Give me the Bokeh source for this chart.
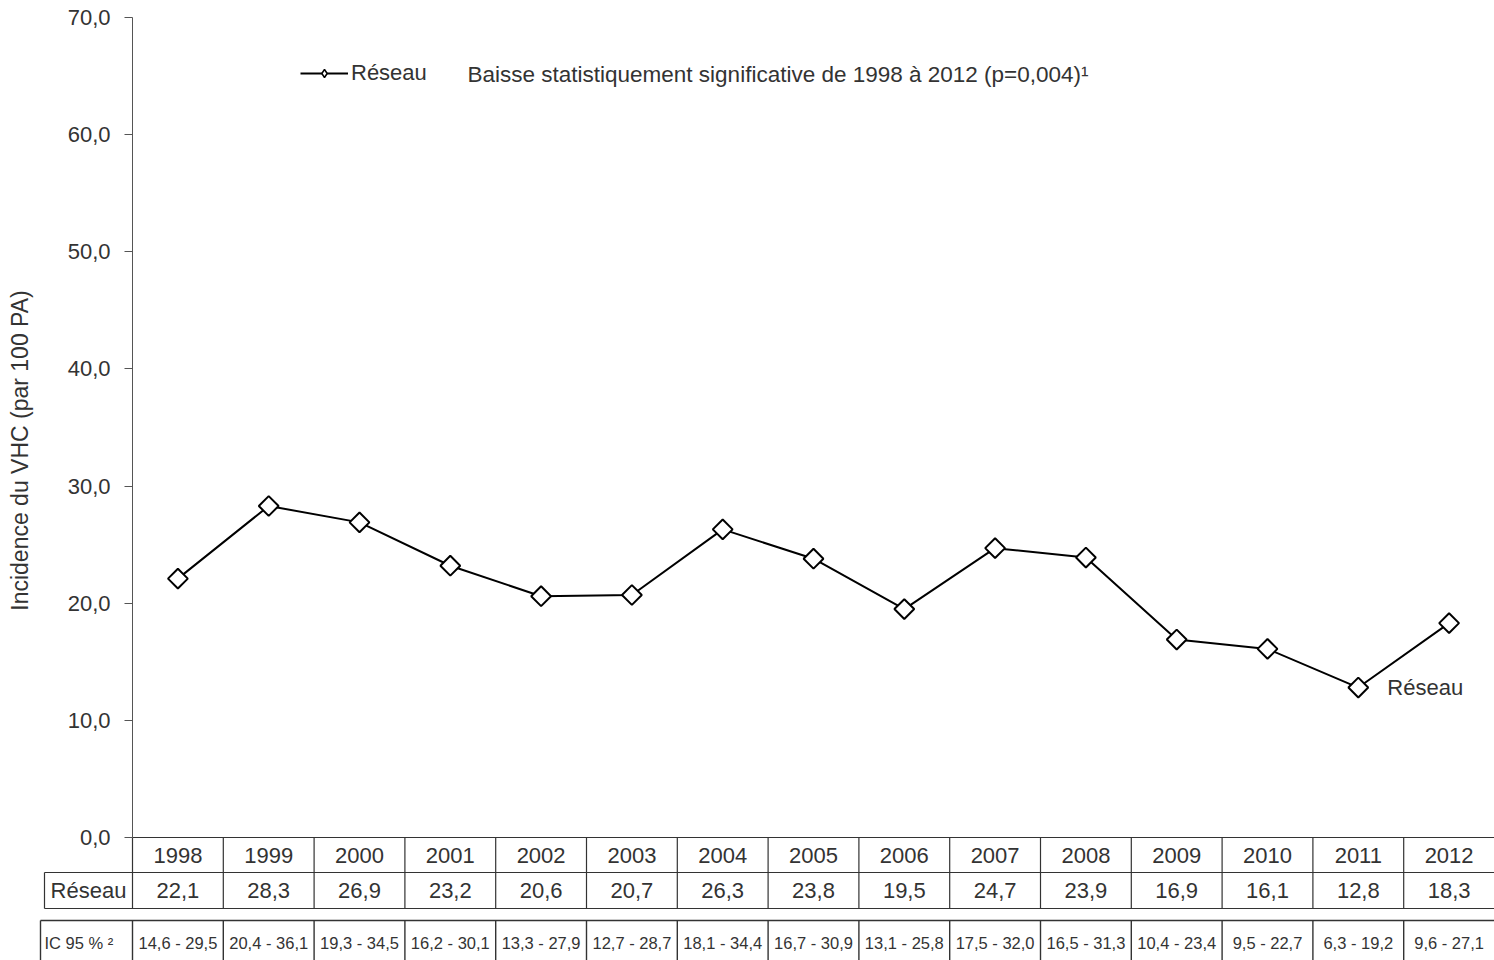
import numpy as np
from bokeh.plotting import figure
from bokeh.models import Range1d, FixedTicker, Label, Legend, LegendItem, ColumnDataSource
from bokeh.core.properties import value
from bokeh.embed import file_html
from bokeh.resources import INLINE

# ---------------- data ----------------
years = [1998, 1999, 2000, 2001, 2002, 2003, 2004, 2005, 2006, 2007, 2008, 2009, 2010, 2011, 2012]
reseau = [22.1, 28.3, 26.9, 23.2, 20.6, 20.7, 26.3, 23.8, 19.5, 24.7, 23.9, 16.9, 16.1, 12.8, 18.3]
ic_low = [14.6, 20.4, 19.3, 16.2, 13.3, 12.7, 18.1, 16.7, 13.1, 17.5, 16.5, 10.4, 9.5, 6.3, 9.6]
ic_high = [29.5, 36.1, 34.5, 30.1, 27.9, 28.7, 34.4, 30.9, 25.8, 32.0, 31.3, 23.4, 22.7, 19.2, 27.1]
y_ticks = [0, 10, 20, 30, 40, 50, 60, 70]
series_name = "Réseau"
y_label = "Incidence du VHC (par 100 PA)"
trend_text = "Baisse statistiquement significative de 1998 à 2012 (p=0,004)¹"
ic_label = "IC 95 % ²"

def fr(v):
    return f"{v:.1f}".replace(".", ",")

# ---------------- layout helpers (page pixels -> data) ----------------
W, H = 1494, 960
PAGE_L, PAGE_T = 0, 0
AX_X = 132            # page x of the y axis
Y0_PX, Y70_PX = 837, 17
n = len(years)
colw = (PAGE_L + W - AX_X) / n
pxu = (Y0_PX - Y70_PX) / 70.0

def xd(px):
    return -0.5 + (px - AX_X) / colw

def yd(py):
    return (Y0_PX - py) / pxu

x_start, x_end = xd(PAGE_L), n - 0.5
y_start, y_end = yd(PAGE_T + H), yd(PAGE_T)

FONT = "Liberation Sans"
TXT = "#333333"
LINE = "#333333"

p = figure(width=W, height=H, x_range=Range1d(x_start, x_end), y_range=Range1d(y_start, y_end),
           output_backend="svg", toolbar_location=None, x_axis_type=None, title=None,
           min_border=0, min_border_left=0, min_border_right=0, min_border_top=0, min_border_bottom=0)
p.outline_line_color = None
p.xgrid.visible = False
p.ygrid.visible = False

ax = p.yaxis[0]
ax.fixed_location = -0.5
ax.ticker = FixedTicker(ticks=y_ticks)
ax.major_label_overrides = {t: fr(t) for t in y_ticks}
ax.bounds = (0, 70)
ax.axis_line_color = "#555555"
ax.major_tick_line_color = "#555555"
ax.major_tick_in = 0
ax.major_tick_out = 8
ax.minor_tick_line_color = None
ax.major_label_standoff = 14
ax.major_label_text_font = FONT
ax.major_label_text_font_size = "22px"
ax.major_label_text_color = TXT

idx = np.arange(n)

# ---------------- series ----------------
src = ColumnDataSource(dict(x=idx, y=reseau))
lr = p.line("x", "y", source=src, line_color="black", line_width=2)
sr = p.scatter("x", "y", source=src, marker="square", angle=np.pi / 4, size=14,
               fill_color="white", line_color="black", line_width=2)
# legend proxy: hidden renderer, only its legend glyph is shown
proxy = p.scatter("x", "y", source=src, marker="diamond", size=13, fill_color="white",
                  line_color="black", line_width=1.5, visible=False)

legend = Legend(items=[LegendItem(label=series_name, renderers=[lr, proxy])],
                location=(300 - PAGE_L, PAGE_T + H - 86), border_line_color=None,
                background_fill_alpha=0, padding=0, margin=0, spacing=0,
                glyph_width=48, glyph_height=20, label_standoff=3,
                inactive_fill_alpha=0,
                label_text_font=FONT, label_text_font_size="22px", label_text_color=TXT)
p.add_layout(legend)

p.add_layout(Label(x=xd(467), y=yd(74), text=trend_text, text_font=FONT, text_font_size="22.5px",
                   text_color=TXT, text_baseline="middle", text_align="left"))

p.add_layout(Label(x=xd(19), y=yd(450), text=y_label, angle=np.pi / 2, text_font=FONT,
                   text_font_size="23px", text_color=TXT, text_baseline="middle", text_align="center"))

p.add_layout(Label(x=idx[13], y=reseau[13], x_offset=29, text=series_name, text_font=FONT,
                   text_font_size="22px", text_color=TXT, text_baseline="middle", text_align="left"))

# ---------------- table ----------------
y_r1, y_r2, y_ic = yd(872), yd(908), yd(920)
x_lab_l, x_ic_l = xd(44), xd(40)
inner = [k + 0.5 for k in range(n - 1)]

x0, y0, x1, y1 = [], [], [], []
for yy, xl in [(0, -0.5), (y_r1, x_lab_l), (y_r2, x_lab_l)]:
    x0.append(xl); x1.append(x_end); y0.append(yy); y1.append(yy)
for xx in [-0.5] + inner:
    x0.append(xx); x1.append(xx); y0.append(0); y1.append(y_r2)
x0.append(x_lab_l); x1.append(x_lab_l); y0.append(y_r1); y1.append(y_r2)
p.segment(x0=x0, y0=y0, x1=x1, y1=y1, line_color=LINE, line_width=1.2)

ix0, iy0, ix1, iy1 = [x_ic_l], [y_ic], [x_end], [y_ic]
for xx in [x_ic_l, -0.5] + inner:
    ix0.append(xx); ix1.append(xx); iy0.append(y_ic); iy1.append(y_start)
p.segment(x0=ix0, y0=iy0, x1=ix1, y1=iy1, line_color=LINE, line_width=1.4)

tsrc = ColumnDataSource(dict(
    x=idx,
    year=[str(y) for y in years],
    val=[fr(v) for v in reseau],
    ic=[f"{fr(a)} - {fr(b)}" for a, b in zip(ic_low, ic_high)],
    yy=[(0 + y_r1) / 2] * n,
    yv=[(y_r1 + y_r2) / 2] * n,
    yi=[yd(942)] * n,
))
p.text("x", "yy", text="year", source=tsrc, text_font=value(FONT), text_font_size="22px",
       text_color=TXT, text_align="center", text_baseline="middle")
p.text("x", "yv", text="val", source=tsrc, text_font=value(FONT), text_font_size="22px",
       text_color=TXT, text_align="center", text_baseline="middle")
p.text("x", "yi", text="ic", source=tsrc, text_font=value(FONT), text_font_size="16.5px",
       text_color=TXT, text_align="center", text_baseline="middle")

p.text(x=[(x_lab_l - 0.5) / 2], y=[(y_r1 + y_r2) / 2], text=[series_name], text_font=value(FONT),
       text_font_size="22px", text_color=TXT, text_align="center", text_baseline="middle")
p.text(x=[xd(44)], y=[yd(942)], text=[ic_label], text_font=value(FONT),
       text_font_size="16.5px", text_color=TXT, text_align="left", text_baseline="middle")

open("out.html", "w").write(file_html(p, INLINE))
